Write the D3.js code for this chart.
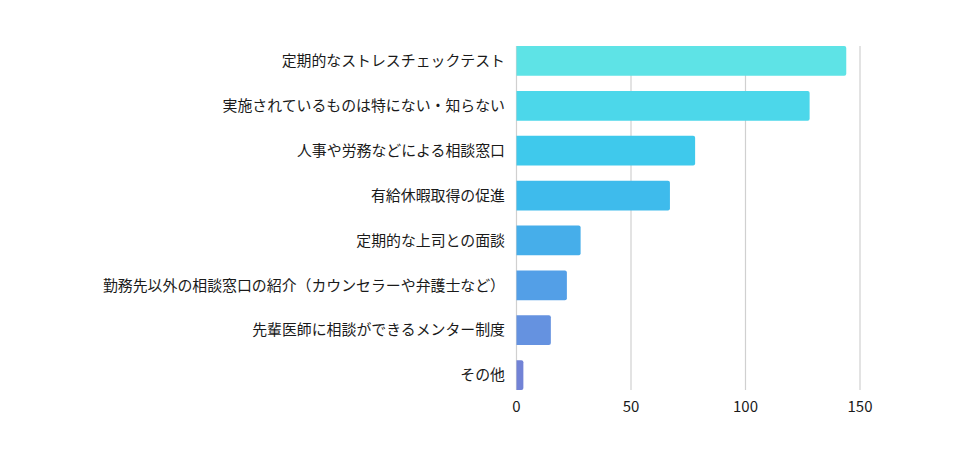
<!DOCTYPE html>
<html>
<head>
<meta charset="utf-8">
<script src="https://cdn.jsdelivr.net/npm/d3@7"></script>
<style>
  body { margin: 0; background: #fff; }
  text { font-family: "Noto Sans CJK JP", "Noto Sans", sans-serif; fill: #1a1a1a; }
</style>
</head>
<body>
<svg id="chart" width="976" height="459"></svg>
<script>
var categories = [
  '定期的なストレスチェックテスト',
  '実施されているものは特にない・知らない',
  '人事や労務などによる相談窓口',
  '有給休暇取得の促進',
  '定期的な上司との面談',
  '勤務先以外の相談窓口の紹介（カウンセラーや弁護士など）',
  '先輩医師に相談ができるメンター制度',
  'その他'
];
var values = [144, 128, 78, 67, 28, 22, 15, 3];
var colors = ['#5ee3e6', '#4cd7ea', '#3fc9ec', '#3ebbec', '#46aeea', '#539fe7', '#6592e0', '#7283d6'];
var ticks = [0, 50, 100, 150];

var svg = d3.select('#chart');

var x = d3.scaleLinear().domain([0, 150]).range([516.5, 860]);
var y = d3.scaleBand().domain(categories).range([46, 390]).paddingInner(0.335).paddingOuter(0);

// gridlines
svg.append('g').selectAll('line')
  .data(ticks)
  .enter().append('line')
  .attr('x1', d => x(d)).attr('x2', d => x(d))
  .attr('y1', 46).attr('y2', 390)
  .attr('stroke', '#d0d0d0')
  .attr('stroke-width', 1.2);

// bars
svg.append('g').selectAll('path')
  .data(values)
  .enter().append('path')
  .attr('d', function (d, i) {
    var x0 = x(0), x1 = x(d), y0 = y(categories[i]), h = y.bandwidth();
    var r = Math.min(2, (x1 - x0) / 2);
    return 'M' + x0 + ',' + y0 + 'H' + (x1 - r) + 'Q' + x1 + ',' + y0 + ' ' + x1 + ',' + (y0 + r) +
      'V' + (y0 + h - r) + 'Q' + x1 + ',' + (y0 + h) + ' ' + (x1 - r) + ',' + (y0 + h) + 'H' + x0 + 'Z';
  })
  .attr('fill', (d, i) => colors[i]);

// category labels
svg.append('g').selectAll('text')
  .data(categories)
  .enter().append('text')
  .attr('x', 505)
  .attr('y', d => y(d) + y.bandwidth() / 2)
  .attr('dy', '0.35em')
  .attr('text-anchor', 'end')
  .attr('font-size', 14.9)
  .text(d => d);

// tick labels
svg.append('g').selectAll('text')
  .data(ticks)
  .enter().append('text')
  .attr('x', d => x(d))
  .attr('y', 407)
  .attr('dy', '0.35em')
  .attr('text-anchor', 'middle')
  .attr('font-size', 15)
  .text(d => d);
</script>
</body>
</html>
